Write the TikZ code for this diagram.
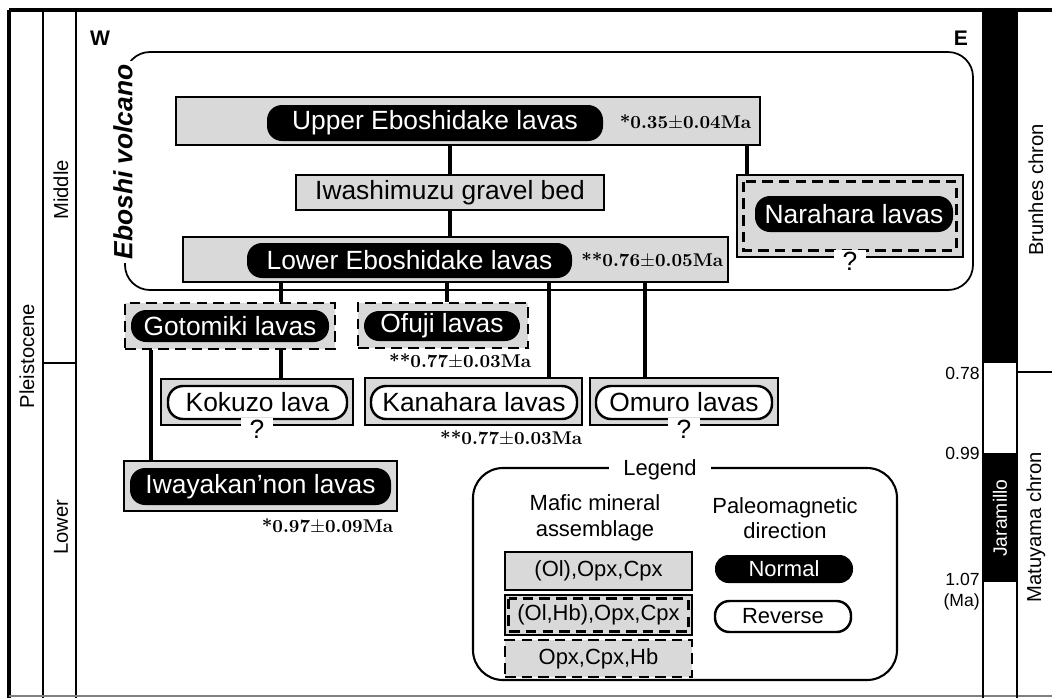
\documentclass[tikz,border=0pt]{standalone}
\usepackage{fontspec}
\setsansfont{Liberation Sans}
\usepackage{tikz}
\usetikzlibrary{positioning, calc, fit}

\definecolor{boxgray}{gray}{0.85}

\begin{document}
\begin{tikzpicture}[x=0.02cm, y=-0.02cm,
    graybox/.style={draw, line width=1.6pt, fill=boxgray, inner sep=0pt},
    dashbox/.style={graybox, dash pattern=on 6pt off 3.5pt},
    innerdash/.style={line width=1.4pt, dash pattern=on 6pt off 3.5pt},
    normal/.style={fill=black, rounded corners=0.3cm, inner sep=0pt},
    reverse/.style={normal, fill=white, draw, line width=1.4pt},
    lavatext/.style={text=white, inner sep=0pt, font=\sffamily\fontsize{15}{17}\selectfont},
    revtext/.style={lavatext, text=black},
    boxtext/.style={inner sep=0pt, font=\sffamily\fontsize{12.5}{14}\selectfont},
    link/.style={line width=2.4pt},
    age/.style={font=\bfseries\fontsize{10.5}{12}\selectfont, inner sep=1pt},
    qmark/.style={fill=white, inner xsep=5pt, inner ysep=1pt, font=\sffamily\fontsize{15}{17}\selectfont},
    side/.style={rotate=90, font=\sffamily\fontsize{11.5}{13}\selectfont},
    legtext/.style={font=\sffamily\fontsize{12.5}{14.5}\selectfont, align=center, inner sep=1pt}]
  \useasboundingbox (0,0) rectangle (1052,698);

  % time scale frame
  \draw[line width=1.8pt] (9,10) -- (1052,10);
  \draw[line width=1.8pt] (9,10) -- (9,698);
  \draw[line width=1.5pt] (43,10) -- (43,698);
  \draw[line width=1pt] (76,10) -- (76,698);
  \draw[line width=1pt] (43,363) -- (76,363);
  \draw[line width=0.8pt, gray] (9,696) -- (1052,696);
  \node[side] (pleist) at (27,356) {Pleistocene};
  \node[side] (middle) at (61,190) {Middle};
  \node[side] (lower) at (61,527) {Lower};

  % polarity column
  \fill (983,10) rectangle (1017,363);
  \fill (983,453) rectangle (1017,582);
  \draw[line width=1pt] (983,10) -- (983,698) (1017,10) -- (1017,698);
  \draw[line width=1pt] (1017,372) -- (1052,372);
  \node[side] (brunhes) at (1036,190) {Brunhes chron};
  \node[side] (matuyama) at (1036,527) {Matuyama chron};
  \node[side, text=white, font=\sffamily\fontsize{11}{13}\selectfont] (jara) at (1000,518) {Jaramillo};
  \node[anchor=east, inner sep=0pt, font=\sffamily\fontsize{10}{12}\selectfont] (m078) at (980,373) {0.78};
  \node[anchor=east, inner sep=0pt, font=\sffamily\fontsize{10}{12}\selectfont] (m099) at (980,453) {0.99};
  \node[anchor=east, inner sep=0pt, font=\sffamily\fontsize{10}{12}\selectfont, align=right] (m107) at (980,592) {1.07\\(Ma)};

  \node[font=\sffamily\bfseries\fontsize{12}{14}\selectfont] (west) at (100,38) {W};
  \node[font=\sffamily\bfseries\fontsize{12}{14}\selectfont] (east) at (961,38) {E};

  % Eboshi volcano
  \node[draw, line width=1pt, rounded corners=0.5cm, inner sep=0pt, fit={(125,52) (973,290)}] (eboshi) {};
  \node[rotate=90, fill=white, inner sep=2pt, font=\sffamily\bfseries\itshape\fontsize{15}{17}\selectfont] (ebolab) at (123,162) {Eboshi volcano};

  \node[graybox, fit={(176,97) (760,145)}] (upper) {};
  \node[normal, fit={(267,105) (603,141)}, label={[lavatext]center:Upper Eboshidake lavas}] (upperlab) {};
  \node[age, anchor=east] (upperage) at ($(upper.east)+(-8,1)$) {*0.35$\pm$0.04Ma};

  \node[graybox, fit={(296,175) (604,210)}, label={[revtext]center:Iwashimuzu gravel bed}] (iwash) {};

  \node[graybox, fit={(183,237) (728,282)}] (lower) {};
  \node[normal, fit={(247,243) (572,278)}, label={[lavatext]center:Lower Eboshidake lavas}] (lowerlab) {};
  \node[age, anchor=east] (lowerage) at ($(lower.east)+(-4,1)$) {**0.76$\pm$0.05Ma};

  \node[graybox, fit={(737,175) (963,257)}] (nara) {};
  \draw[innerdash] ($(nara.north west)+(8,8)$) rectangle ($(nara.south east)+(-8,-8)$);
  \node[normal, fit={(755,196) (953,232)}, label={[lavatext]center:Narahara lavas}] (naralab) {};
  \node[qmark, below=-5pt of nara] (qnara) {?};

  % satellite lavas
  \node[dashbox, fit={(125,303) (335,349)}] (goto) {};
  \node[normal, fit={(131,310) (329,342)}, label={[lavatext]center:Gotomiki lavas}] (gotolab) {};

  \node[dashbox, fit={(358,303) (528,348)}] (ofuji) {};
  \node[normal, fit={(364,311) (520,341)}, label={[lavatext]center:Ofuji lavas}] (ofujilab) {};
  \node[age, anchor=north east] (ofujiage) at ($(ofuji.south east)+(4,2)$) {**0.77$\pm$0.03Ma};

  \node[graybox, fit={(161,379) (353,425)}] (kokuzo) {};
  \node[reverse, fit={(168,386) (347,419)}, label={[revtext]center:Kokuzo lava}] (kokuzolab) {};
  \node[qmark, below=-5pt of kokuzo] (qkokuzo) {?};

  \node[graybox, fit={(365,378) (582,425)}] (kana) {};
  \node[reverse, fit={(371,386) (577,419)}, label={[revtext]center:Kanahara lavas}] (kanalab) {};
  \node[age, anchor=north east] (kanaage) at ($(kana.south east)+(1,2)$) {**0.77$\pm$0.03Ma};

  \node[graybox, fit={(590,378) (778,425)}] (omuro) {};
  \node[reverse, fit={(596,386) (772,419)}, label={[revtext]center:Omuro lavas}] (omurolab) {};
  \node[qmark, below=-5pt of omuro] (qomuro) {?};

  \node[graybox, fit={(124,461) (397,511)}] (iwaya) {};
  \node[normal, fit={(130,468) (391,505)}, label={[lavatext]center:Iwayakan'non lavas}] (iwayalab) {};
  \node[age, anchor=north east] (iwayaage) at ($(iwaya.south east)+(-3,4)$) {*0.97$\pm$0.09Ma};

  % connectors
  \coordinate (cnara) at (747,0);
  \coordinate (cgoto) at (281,0);
  \coordinate (cofuji) at (447,0);
  \coordinate (ckana) at (549,0);
  \coordinate (comuro) at (645,0);
  \coordinate (ciwaya) at (151,0);
  \draw[link] (iwash.north) -- (iwash.north |- upper.south);
  \draw[link] (iwash.south) -- (iwash.south |- lower.north);
  \draw[link] (cnara |- upper.south) -- (cnara |- nara.north);
  \draw[link] (cgoto |- lower.south) -- (cgoto |- goto.north);
  \draw[link] (cofuji |- lower.south) -- (cofuji |- ofuji.north);
  \draw[link] (ckana |- lower.south) -- (ckana |- kana.north);
  \draw[link] (comuro |- lower.south) -- (comuro |- omuro.north);
  \draw[link] (cgoto |- goto.south) -- (cgoto |- kokuzo.north);
  \draw[link] (ciwaya |- goto.south) -- (ciwaya |- iwaya.north);

  % legend
  \node[draw, line width=1.2pt, rounded corners=0.6cm, inner sep=0pt, fit={(473,468) (897,680)}] (legend) {};
  \node[legtext, fill=white, inner xsep=8pt] (legtitle) at (660,470) {Legend};
  \node[legtext] (mafic) at (595,518) {Mafic mineral\\assemblage};
  \node[legtext] (paleo) at (785,518) {Paleomagnetic\\direction};
  \node[graybox, fit={(505,552) (692,590)}, label={[boxtext]center:(Ol),Opx,Cpx}] (min1) {};
  \node[graybox, fit={(505,595) (692,635)}] (min2) {};
  \draw[innerdash] ($(min2.north west)+(5,5)$) rectangle ($(min2.south east)+(-5,-5)$);
  \node[boxtext] (min2lab) at (min2) {(Ol,Hb),Opx,Cpx};
  \node[dashbox, fit={(505,640) (692,677)}, label={[boxtext]center:Opx,Cpx,Hb}] (min3) {};
  \node[normal, rounded corners=0.27cm, fit={(715,555) (853,583)}, label={[lavatext, font=\sffamily\fontsize{12.5}{14}\selectfont]center:Normal}] (normlab) {};
  \node[reverse, rounded corners=0.29cm, fit={(715,601) (851,632)}, label={[revtext, font=\sffamily\fontsize{12.5}{14}\selectfont]center:Reverse}] (revlab) {};
\end{tikzpicture}
\end{document}
